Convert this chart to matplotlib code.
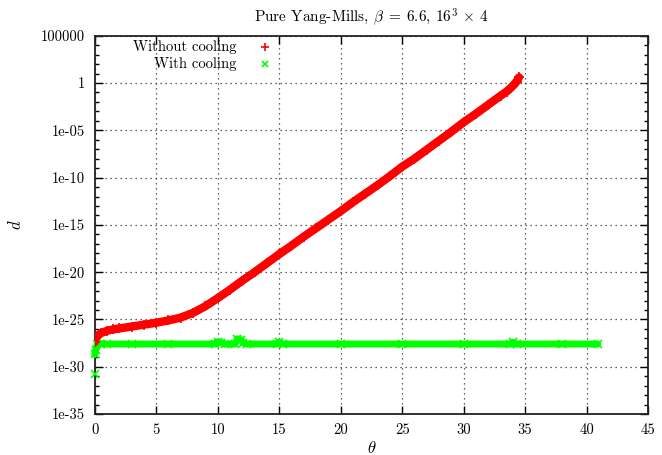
import numpy as np
import matplotlib
matplotlib.use("Agg")
import matplotlib.pyplot as plt
from matplotlib.ticker import FixedLocator, NullFormatter

plt.rcParams['font.family'] = ['cmr10', 'DejaVu Serif']
plt.rcParams['mathtext.fontset'] = 'cm'
plt.rcParams['axes.formatter.use_mathtext'] = True

# values (theta, log10 d)
red_theta = [0.0, 0.1, 0.25, 0.5, 1.0, 1.5, 2.0, 3.0, 4.0, 5.0, 6.0, 7.0, 8.0, 9.0,
             10.0, 11.0, 12.0, 13.0, 14.0, 15.0, 16.0, 17.0, 18.0, 19.0, 20.0,
             21.0, 22.0, 23.0, 24.0, 25.0, 26.0, 27.0, 28.0, 29.0, 30.0, 31.0,
             32.0, 33.0, 33.5, 34.0, 34.3, 34.5]
red_logd = [-27.4, -27.0, -26.7, -26.45, -26.2, -26.05, -25.95, -25.75, -25.55, -25.35,
            -25.1, -24.8, -24.3, -23.6, -22.75, -21.85, -20.9, -20.0, -19.05, -18.1,
            -17.2, -16.25, -15.35, -14.45, -13.55, -12.6, -11.7, -10.8, -9.85, -8.85,
            -8.0, -7.05, -6.1, -5.15, -4.15, -3.25, -2.3, -1.35, -0.9, -0.3, 0.15, 0.6]

green_theta = [0.0, 0.1, 0.2, 0.5, 1.0, 3.0, 6.0, 9.8, 10.0, 10.3, 10.6, 11.4, 11.6,
               11.9, 12.1, 12.4, 14.8, 15.0, 15.3, 20.0, 25.0, 30.0, 33.8, 34.0,
               34.3, 38.0, 40.9]
green_logd = [-28.7, -28.2, -27.6, -27.55, -27.6, -27.6, -27.6, -27.6, -27.35, -27.45,
              -27.6, -27.6, -27.05, -27.15, -27.5, -27.6, -27.6, -27.4, -27.6, -27.6,
              -27.6, -27.6, -27.6, -27.4, -27.6, -27.6, -27.6]

green_out_theta = [0.0]
green_out_logd = [-30.75]

ytick_pos = [1e5, 1e0, 1e-5, 1e-10, 1e-15, 1e-20, 1e-25, 1e-30, 1e-35]
ytick_labels = ['100000', '1', '1e-05', '1e-10', '1e-15', '1e-20', '1e-25', '1e-30', '1e-35']
xtick_pos = [0, 5, 10, 15, 20, 25, 30, 35, 40, 45]

red_d = 10.0 ** np.array(red_logd)
green_d = 10.0 ** np.array(green_logd)
green_out_d = 10.0 ** np.array(green_out_logd)

fig = plt.figure(figsize=(6.62, 4.55), dpi=100)
ax = fig.add_axes([0.143, 0.090, 0.836, 0.8315])

ax.plot(green_theta, green_d, color='#00ff00', lw=5.0, solid_capstyle='round', clip_on=False, zorder=3)
ax.plot(green_theta, green_d, 'x', color='#00ff00', ms=6, mew=1.2, clip_on=False, zorder=3)
ax.plot(green_out_theta, green_out_d, 'x', color='#00ff00', ms=6, mew=1.2, clip_on=False, zorder=3)
ax.plot(red_theta, red_d, color='#ff0000', lw=6.0, solid_capstyle='round', zorder=4)
ax.plot(red_theta, red_d, '+', color='#ff0000', ms=7, mew=1.2, zorder=4)

ax.set_yscale('log')
ax.set_xlim(0, 45)
ax.set_ylim(1e-35, 1e5)
ax.yaxis.set_major_locator(FixedLocator(ytick_pos))
ax.set_yticklabels(ytick_labels)
ax.yaxis.set_minor_locator(FixedLocator(10.0 ** np.arange(-35, 6)))
ax.yaxis.set_minor_formatter(NullFormatter())
ax.set_xticks(xtick_pos)
ax.set_xticklabels([str(v) for v in xtick_pos])

ax.tick_params(which='both', direction='in', top=True, right=True, labelsize=10.5, pad=7)
ax.tick_params(which='major', length=6, width=1)
ax.tick_params(which='minor', length=3, width=1)
ax.grid(True, which='major', linestyle=(0, (1, 3)), color='#333333', lw=0.9)
for s in ax.spines.values():
    s.set_linewidth(1.3)
    s.set_color('#222222')

ax.set_title(r'Pure Yang-Mills, $\beta\;=\;6.6$, $16^3\,\times\,4$', fontsize=11, pad=10)
ax.set_xlabel(r'$\theta$', fontsize=12, labelpad=2)
ax.set_ylabel(r'$d$', fontsize=12, labelpad=12)

# gnuplot-style key: right-aligned text, sample to the right
ax.text(0.256, 0.969, 'Without cooling', transform=ax.transAxes, ha='right', va='center', fontsize=10.5)
ax.text(0.256, 0.925, 'With cooling', transform=ax.transAxes, ha='right', va='center', fontsize=10.5)
ax.plot([0.308], [0.969], '+', color='#ff0000', ms=6, mew=1.2, transform=ax.transAxes, clip_on=False)
ax.plot([0.308], [0.925], 'x', color='#00ff00', ms=5, mew=1.2, transform=ax.transAxes, clip_on=False)

fig.savefig('out.png', dpi=100)
